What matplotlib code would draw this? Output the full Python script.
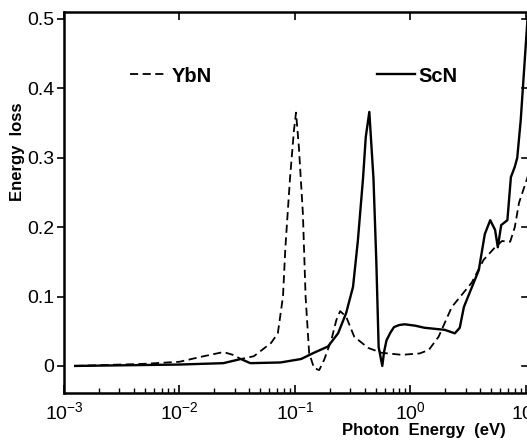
import numpy as np
import matplotlib
matplotlib.use("Agg")
import matplotlib.pyplot as plt
from matplotlib.ticker import LogLocator, NullFormatter

plt.rcParams['font.family'] = ['Liberation Sans', 'DejaVu Sans']
plt.rcParams['mathtext.default'] = 'regular'

# YbN (dashed) energy loss
ybn_e = [1.25e-3, 4.9e-3, 1.0e-2, 1.52e-2, 2.4e-2, 2.9e-2, 3.4e-2, 4.4e-2, 6.2e-2,
         7.1e-2, 7.87e-2, 8.25e-2, 9.05e-2, 9.8e-2, 1.02e-1, 1.08e-1, 1.17e-1,
         1.235e-1, 1.325e-1, 1.46e-1, 1.62e-1, 1.79e-1, 2.06e-1, 2.28e-1, 2.46e-1,
         2.77e-1, 3.26e-1, 4.3e-1, 5.6e-1, 8.4e-1, 1.2, 1.44, 1.75, 2.28, 3.39,
         4.3, 5.4, 6.2, 7.3, 8.0, 8.7, 10.6]
ybn_loss = [0.0, 0.003, 0.006, 0.013, 0.020, 0.016, 0.010, 0.014, 0.033,
            0.047, 0.100, 0.170, 0.270, 0.340, 0.365, 0.316, 0.220,
            0.100, 0.019, -0.003, -0.006, 0.009, 0.037, 0.066, 0.079,
            0.071, 0.042, 0.026, 0.019, 0.016, 0.018, 0.023, 0.042, 0.085, 0.120,
            0.153, 0.171, 0.180, 0.179, 0.200, 0.235, 0.278]

# ScN (solid) energy loss
scn_e = [1.25e-3, 1.0e-2, 2.4e-2, 3.4e-2, 4.1e-2, 7.5e-2, 1.13e-1, 1.46e-1, 1.93e-1,
         2.36e-1, 2.77e-1, 3.18e-1, 3.5e-1, 3.88e-1, 4.1e-1, 4.4e-1, 4.78e-1,
         5.06e-1, 5.3e-1, 5.7e-1, 5.9e-1, 6.2e-1, 6.7e-1, 7.2e-1, 8.0e-1, 8.9e-1,
         1.1, 1.32, 1.98, 2.42, 2.67, 2.9, 3.9, 4.4, 4.9, 5.4, 5.7, 6.1, 6.9, 7.4,
         8.0, 8.4, 9.0, 10.5]
scn_loss = [0.0, 0.002, 0.004, 0.010, 0.004, 0.005, 0.010, 0.019, 0.028,
            0.047, 0.076, 0.114, 0.180, 0.270, 0.330, 0.366, 0.270,
            0.150, 0.027, 0.0, 0.020, 0.037, 0.048, 0.056, 0.059, 0.060,
            0.058, 0.055, 0.052, 0.047, 0.055, 0.085, 0.138, 0.190, 0.210, 0.196,
            0.171, 0.203, 0.210, 0.272, 0.287, 0.300, 0.354, 0.52]

yticks = [0, 0.1, 0.2, 0.3, 0.4, 0.5]
ytick_labels = ['0', '0.1', '0.2', '0.3', '0.4', '0.5']
xticks = [1e-3, 1e-2, 1e-1, 1e0, 1e1]
xtick_labels = ['$10^{-3}$', '$10^{-2}$', '$10^{-1}$', '$10^{0}$', '$10^{1}$']

fig = plt.figure(figsize=(5.27, 4.41), dpi=100)
ax = fig.add_axes([64 / 527, 48 / 441, 465 / 527, 381 / 441])

ax.plot(ybn_e, ybn_loss, color='black', lw=1.3, dashes=(4.5, 2.5), label='YbN')
ax.plot(scn_e, scn_loss, color='black', lw=1.7, solid_joinstyle='round', label='ScN')

ax.set_xscale('log')
ax.set_xlim(1e-3, 10 ** 1.026)
ax.set_ylim(-0.039, 0.51)

ax.set_xticks(xticks)
ax.set_xticklabels(xtick_labels, fontsize=14)
ax.xaxis.set_minor_locator(LogLocator(base=10, subs=np.arange(2, 10), numticks=20))
ax.xaxis.set_minor_formatter(NullFormatter())
ax.set_yticks(yticks)
ax.set_yticklabels(ytick_labels, fontsize=14)

ax.tick_params(axis='x', which='major', direction='in', length=6, width=1.2, top=True, pad=6)
ax.tick_params(axis='x', which='minor', direction='in', length=3.5, width=1.0, top=False)
ax.tick_params(axis='y', which='major', direction='out', length=5, width=1.2, right=False, pad=2)
for y in yticks:
    ax.plot([0.985, 1.0], [y, y], transform=ax.get_yaxis_transform(), color='black', lw=1.2, clip_on=False)

for side in ['left', 'bottom', 'top']:
    ax.spines[side].set_linewidth(1.8)
ax.spines['right'].set_linewidth(1.2)

ax.legend(loc='center left', bbox_to_anchor=(0.142, 0.832), ncol=2, frameon=False,
          handlelength=1.9, handletextpad=0.15, columnspacing=8.2,
          borderpad=0, borderaxespad=0, prop={'weight': 'bold', 'size': 14.5})

fig.text(18 / 527, 1 - 152 / 441, 'Energy  loss', rotation=90, ha='center', va='center', fontsize=12, fontweight='bold')
fig.text(424 / 527, 1 - 431 / 441, 'Photon  Energy  (eV)', ha='center', va='center', fontsize=12, fontweight='bold')

fig.savefig('out.png', dpi=100)
